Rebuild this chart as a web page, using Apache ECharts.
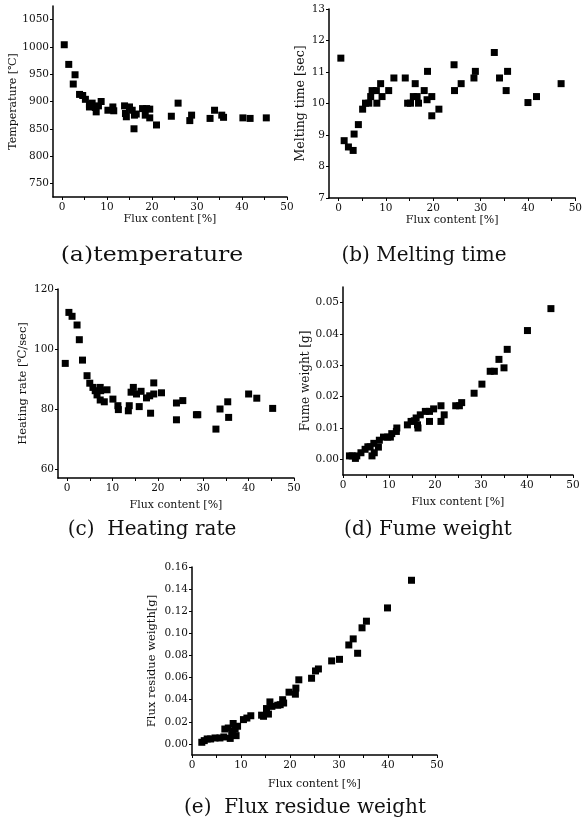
<!DOCTYPE html>
<html><head><meta charset="utf-8">
<script src="https://cdn.jsdelivr.net/npm/echarts@6/dist/echarts.min.js"></script>
<style>html,body{margin:0;padding:0;background:#fff}#c{width:585px;height:825px}</style>
</head><body><div id="c"></div>
<script>
// (a) temperature [flux %, ℃]
const temperaturePts = [[0.5,1004],[1.5,968],[2.9,949],[2.5,932],[3.9,913],[4.6,911],[5.2,904],[6.1,895],[6.7,897],[6.1,890],[7.6,881],[7.4,889],[8.1,892],[8.7,900],[10.2,884],[11.3,890],[11.5,883],[13.9,892],[14.1,878],[14.3,872],[15.0,890],[15.6,884],[16.1,875],[16.0,850],[16.5,877],[17.9,887],[18.8,887],[18.5,875],[19.5,886],[19.5,870],[21.0,857],[24.3,873],[25.8,897],[28.4,865],[28.8,875],[32.9,869],[33.9,884],[35.5,875],[35.9,871],[40.2,870],[41.8,869],[45.4,870]];
// (b) melting time [flux %, sec]
const meltingPts = [[0.5,11.44],[1.2,8.82],[2.1,8.62],[3.1,8.51],[3.3,9.03],[4.2,9.33],[5.1,9.82],[5.7,10.01],[6.4,10.01],[6.8,10.22],[7.1,10.41],[8.0,10.41],[8.1,10.01],[8.9,10.63],[9.2,10.22],[10.6,10.41],[11.7,10.81],[14.1,10.81],[14.6,10.01],[15.2,10.01],[15.8,10.22],[16.2,10.63],[16.6,10.22],[16.9,10.01],[18.1,10.41],[18.7,10.12],[18.8,11.02],[19.7,10.22],[19.7,9.61],[21.2,9.82],[24.4,11.23],[24.5,10.41],[25.9,10.63],[28.6,10.81],[28.9,11.02],[32.9,11.62],[34.0,10.81],[35.4,10.41],[35.7,11.02],[40.0,10.03],[41.8,10.22],[47.0,10.63]];
// (c) heating rate [flux %, ℃/sec]
const heatingPts = [[-0.4,95.2],[0.4,112.2],[1.1,110.9],[2.2,108],[2.7,103.1],[3.4,96.3],[4.4,91.1],[5.0,88.6],[5.7,87.2],[6.2,86.1],[6.6,84.7],[7.3,87.2],[7.4,86.1],[7.3,83],[8.2,82.4],[8.8,86.4],[10.1,83.3],[11.2,81.1],[11.3,79.8],[13.5,79.4],[13.7,81.1],[14.1,85.6],[14.6,87.2],[15.3,85],[15.9,80.8],[16.3,85.9],[17.5,83.7],[18.2,84.4],[18.4,78.6],[19.1,85],[19.1,88.7],[20.8,85.4],[24.1,82],[24.1,76.4],[25.5,82.8],[28.5,78.1],[28.8,78.1],[32.8,73.3],[33.7,80],[35.4,82.4],[35.6,77.2],[40.0,85],[41.8,83.6],[45.3,80.2]];
// (d) fume weight [flux %, g]
const fumePts = [[1.4,0.0011],[2.0,0.0011],[2.7,0.0003],[3.0,0.0011],[3.9,0.0021],[4.8,0.0032],[5.4,0.004],[5.9,0.004],[6.3,0.0011],[6.8,0.0021],[6.7,0.0051],[7.7,0.0039],[7.9,0.0061],[8.8,0.0071],[9.7,0.0071],[10.3,0.0071],[10.6,0.0082],[11.6,0.0089],[11.7,0.01],[14.0,0.011],[14.8,0.0121],[15.5,0.0123],[15.9,0.0132],[16.2,0.011],[16.3,0.01],[16.8,0.0142],[17.9,0.0153],[18.8,0.0121],[18.8,0.0153],[19.7,0.0161],[21.3,0.0171],[21.3,0.0121],[22.0,0.0142],[24.5,0.0171],[25.3,0.0171],[25.8,0.0181],[28.5,0.0211],[30.2,0.024],[32.0,0.0281],[32.9,0.0281],[33.9,0.0319],[35.0,0.0292],[35.7,0.0351],[40.1,0.0411],[45.2,0.0481]];
// (e) flux residue weight [flux %, g]
const residuePts = [[2.0,0.0015],[2.5,0.003],[3.1,0.0045],[3.8,0.0045],[4.7,0.0054],[5.7,0.0054],[6.5,0.0063],[6.7,0.0135],[7.4,0.0144],[7.8,0.005],[8.1,0.0084],[8.3,0.0114],[8.4,0.0185],[8.8,0.0135],[9.0,0.0075],[9.3,0.016],[10.5,0.022],[11.2,0.0234],[12.0,0.0255],[14.2,0.026],[14.6,0.025],[15.2,0.032],[15.6,0.027],[15.9,0.038],[16.3,0.034],[17.5,0.035],[18.0,0.0355],[18.5,0.040],[18.7,0.037],[19.8,0.0468],[21.1,0.045],[21.2,0.0505],[21.8,0.058],[24.4,0.0594],[25.2,0.066],[25.8,0.0678],[28.5,0.0751],[30.1,0.0765],[32.0,0.0895],[32.9,0.095],[33.8,0.082],[34.7,0.105],[35.6,0.111],[39.9,0.123],[44.8,0.148]];

const xTickLabels = [0,10,20,30,40,50];
const xMinorTicks = [0,5,10,15,20,25,30,35,40,45,50];
const tempTicks = [750,800,850,900,950,1000,1050];
const meltTicks = [7,8,9,10,11,12,13];
const heatTicks = [60,80,100,120];
const fumeTicks = [0,0.01,0.02,0.03,0.04,0.05];
const residueTicks = [0,0.02,0.04,0.06,0.08,0.10,0.12,0.14,0.16];

const captions = ['(a)temperature','(b) Melting time','(c)  Heating rate','(d) Fume weight','(e)  Flux residue weight'];
const yNames = ['Temperature [℃]','Melting time [sec]','Heating rate [℃/sec]','Fume weight [g]','Flux residue weigth[g]'];
const xName = 'Flux content [%]';

const SERIF = '"DejaVu Serif","Liberation Serif",serif';
const grids = [
  {left:53, top:6, width:234, height:191},
  {left:329, top:9, width:247, height:189},
  {left:58, top:289, width:236, height:189},
  {left:343, top:287, width:230, height:188},
  {left:192, top:567, width:245, height:188}
];
const yCfg = [
  {min:725, max:1075, ticks:tempTicks, gap:34, fmt:v=>String(v), fs:11},
  {min:7, max:13, ticks:meltTicks, gap:20, fmt:v=>String(v), fs:12.5},
  {min:57, max:120, ticks:heatTicks, gap:29, fmt:v=>String(v), fs:11.5},
  {min:-0.005, max:0.055, ticks:fumeTicks, gap:30, fmt:v=>v.toFixed(2), fs:12},
  {min:-0.01, max:0.16, ticks:residueTicks, gap:34, fmt:v=>v.toFixed(2), fs:11.5}
];
const xMins = [-2,-2,-2,0,0];
const data = [temperaturePts, meltingPts, heatingPts, fumePts, residuePts];
const capPos = [[152,256],[424,256],[152,530],[428,530],[305,808]];
const capScale = [1.18,1.0,1.0,1.0,1.0];

const axisLine = {show:true, onZero:false, lineStyle:{color:'#000', width:1.5}};
const option = {
  backgroundColor:'#fff',
  animation:false,
  graphic: captions.map((t,i)=>({type:'text', x:capPos[i][0], y:capPos[i][1], scaleX:capScale[i],
    style:{text:t, align:'center', verticalAlign:'middle', font:'20px '+SERIF, fill:'#111'}})),
  grid: grids,
  xAxis: grids.map((g,i)=>({type:'value', gridIndex:i, min:xMins[i], max:50,
    name:xName, nameLocation:'middle', nameGap:i<2?17:(i<4?22:24),
    nameTextStyle:{fontFamily:SERIF, fontSize:11, color:'#111'},
    axisLine, splitLine:{show:false},
    axisTick:{show:true, customValues:xMinorTicks, length:3, lineStyle:{color:'#000'}},
    axisLabel:{customValues:xTickLabels, fontFamily:SERIF, fontSize:10.5, color:'#111', margin:5}
  })),
  yAxis: grids.map((g,i)=>({type:'value', gridIndex:i, min:yCfg[i].min, max:yCfg[i].max,
    name:yNames[i], nameLocation:'middle', nameGap:yCfg[i].gap, nameRotate:90,
    nameTextStyle:{fontFamily:SERIF, fontSize:yCfg[i].fs, color:'#111'},
    axisLine, splitLine:{show:false},
    axisTick:{show:true, customValues:yCfg[i].ticks, length:3, lineStyle:{color:'#000'}},
    axisLabel:{customValues:yCfg[i].ticks, formatter:yCfg[i].fmt, fontFamily:SERIF, fontSize:10.5, color:'#111', margin:4}
  })),
  series: data.map((d,i)=>({type:'scatter', xAxisIndex:i, yAxisIndex:i, data:d,
    symbol:'rect', symbolSize:7, itemStyle:{color:'#000', opacity:1}}))
};
const chart = echarts.init(document.getElementById('c'), null, {renderer:'canvas'});
chart.setOption(option);
</script></body></html>
